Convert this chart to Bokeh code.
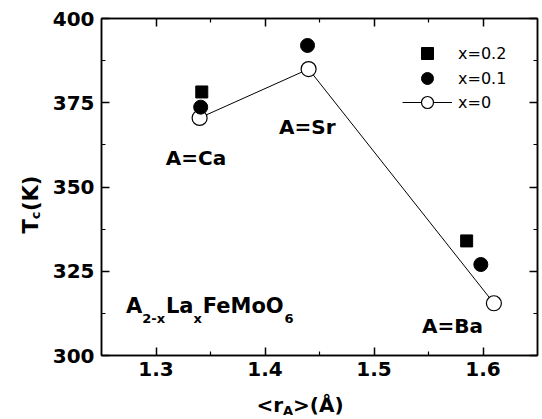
import math
from bokeh.plotting import figure
from bokeh.layouts import row, column
from bokeh.models import (Label, LinearAxis, FixedTicker, Legend, LegendItem, Range1d)
from bokeh.embed import file_html
from bokeh.resources import INLINE

# ---- data ----
compounds = ["A=Ca", "A=Sr", "A=Ba"]
r_x0 = [1.340, 1.440, 1.610]        # <rA> for x=0
tc_x0 = [370.5, 385.0, 315.5]
r_x01 = [1.341, 1.439, 1.598]       # x=0.1
tc_x01 = [373.7, 392.0, 327.0]
r_x02 = [1.342, 1.585]              # x=0.2
tc_x02 = [378.2, 334.0]
series_labels = ["x=0.2", "x=0.1", "x=0"]
x_ticks = [1.3, 1.4, 1.5, 1.6]
y_ticks = [300, 325, 350, 375, 400]

BOLD = "DejaVu Sans"
YT_W = 45          # width of the y-title strip
XT_H = 34          # height of the x-title strip
TOTAL_W, TOTAL_H = 542, 419
MW, MH = TOTAL_W - YT_W, TOTAL_H - XT_H

p = figure(width=MW, height=MH, x_range=Range1d(1.25, 1.65), y_range=Range1d(300, 400),
           output_backend="svg", toolbar_location=None,
           x_axis_type=None, y_axis_type=None,
           min_border_left=56, min_border_right=5, min_border_top=18,
           min_border_bottom=MH - 355)
p.outline_line_color = "black"
p.outline_line_width = 1.5
p.background_fill_color = "white"
p.border_fill_color = "white"

def mids(t):
    return [(a + b) / 2 for a, b in zip(t, t[1:])]

x_ticker = FixedTicker(ticks=x_ticks, minor_ticks=mids(x_ticks))
y_ticker = FixedTicker(ticks=y_ticks, minor_ticks=mids(y_ticks))

def style_axis(ax, show_labels):
    ax.axis_line_color = "black"
    ax.axis_line_width = 1.5
    ax.major_tick_in = 8
    ax.major_tick_out = 0
    ax.minor_tick_in = 4
    ax.minor_tick_out = 0
    ax.major_tick_line_width = 1.5
    ax.minor_tick_line_width = 1.2
    ax.major_tick_line_color = "black"
    ax.minor_tick_line_color = "black"
    if show_labels:
        ax.major_label_text_font = BOLD
        ax.major_label_text_font_style = "bold"
        ax.major_label_text_font_size = "20px"
        ax.major_label_text_color = "black"
    else:
        ax.major_label_text_font_size = "1px"
        ax.major_label_standoff = 0

xb = LinearAxis(ticker=x_ticker)
style_axis(xb, True)
xb.major_label_standoff = 6
xb.major_label_overrides = {t: f"{t:.1f}" for t in x_ticks}
p.add_layout(xb, "below")

yl = LinearAxis(ticker=y_ticker)
style_axis(yl, True)
yl.major_label_standoff = 7
p.add_layout(yl, "left")

xt = LinearAxis(ticker=x_ticker)
style_axis(xt, False)
xt.major_label_overrides = {t: "" for t in x_ticks}
p.add_layout(xt, "above")

yr = LinearAxis(ticker=y_ticker)
style_axis(yr, False)
yr.major_label_overrides = {t: "" for t in y_ticks}
p.add_layout(yr, "right")

# ---- data glyphs ----
rl = p.line(r_x0, tc_x0, line_color="black", line_width=1)
r0 = p.scatter(r_x0, tc_x0, marker="circle", size=15, fill_color="white",
               line_color="black", line_width=1.2)
r2 = p.scatter(r_x02, tc_x02, marker="square", size=12, fill_color="black",
               line_color="black")
r1 = p.scatter(r_x01, tc_x01, marker="circle", size=14, fill_color="black",
               line_color="black")

# ---- legend (one entry per row, so rows can sit 25px apart) ----
def add_legend(label, renderers, bottom):
    lg = Legend(items=[LegendItem(label=label, renderers=renderers)],
                location=(301, bottom), orientation="vertical",
                glyph_width=50, glyph_height=30, label_height=30, spacing=0,
                padding=0, margin=0, label_standoff=6,
                border_line_color=None, background_fill_alpha=0,
                label_text_font="DejaVu Sans", label_text_font_size="16px",
                label_text_color="black")
    p.add_layout(lg)

add_legend(series_labels[0], [r2], 287)
add_legend(series_labels[1], [r1], 262)
add_legend(series_labels[2], [rl, r0], 238)

# ---- compound labels ----
def lab(fig, text, x, y, **kw):
    args = dict(text=text, x=x, y=y, text_font=BOLD, text_font_style="bold",
                text_font_size="20px", text_color="black")
    args.update(kw)
    l = Label(**args)
    fig.add_layout(l)
    return l

lab(p, compounds[0], 1.309, 358.6, text_baseline="middle", text_align="left")
lab(p, compounds[1], 1.4647, 367.9, text_baseline="middle", text_align="right")
lab(p, compounds[2], 1.600, 308.9, text_baseline="middle", text_align="right")

# ---- formula A2-xLaxFeMoO6 ----
fx, fy = 1.2725, 314.6
pieces = [("A", 21, 0), ("2-x", 13, -12), ("La", 21, 0), ("x", 13, -12),
          ("FeMoO", 21, 0), ("6", 13, -12)]
widths = {"A": 0.774, "2-x": 1.823, "La": 1.312, "x": 0.712, "FeMoO": 3.893, "6": 0.696}
off = 0.0
for t, fs, dy in pieces:
    lab(p, t, fx, fy, text_font_size=f"{fs}px", x_offset=off, y_offset=dy,
        text_baseline="alphabetic", text_align="left")
    off += widths[t] * fs

# ---- title strips (separate small figures so the titles are not clipped) ----
def strip(w, h):
    f = figure(width=w, height=h, x_range=Range1d(0, w), y_range=Range1d(0, h),
               output_backend="svg", toolbar_location=None,
               x_axis_type=None, y_axis_type=None,
               min_border=0, min_border_left=0, min_border_right=0,
               min_border_top=0, min_border_bottom=0)
    f.outline_line_color = None
    f.background_fill_color = "white"
    f.border_fill_color = "white"
    return f

def slab(fig, text, x, y, fs, angle=0.0):
    lab(fig, text, x, y, x_units="screen", y_units="screen",
        text_font_size=f"{fs}px", text_baseline="alphabetic", text_align="left",
        angle=angle)

# y title: T_c(K), rotated (strip spans full height, y measured from bottom)
yfig = strip(YT_W, TOTAL_H)
slab(yfig, "T", 30, 186, 21, angle=math.pi / 2)
slab(yfig, "c", 35, 200.3, 13, angle=math.pi / 2)
slab(yfig, "(K)", 30, 208.5, 21, angle=math.pi / 2)

# x title: <r_A>(Å)   (strip starts at x=YT_W, y measured from strip bottom)
xfig = strip(MW, XT_H)
slab(xfig, "<r", 155, 15, 20)
slab(xfig, "A", 181.6, 9, 13)
slab(xfig, ">(Å)", 191.6, 15, 20)

layout = row(yfig, column(p, xfig, spacing=0), spacing=0)

open("out.html", "w").write(file_html(layout, INLINE))
